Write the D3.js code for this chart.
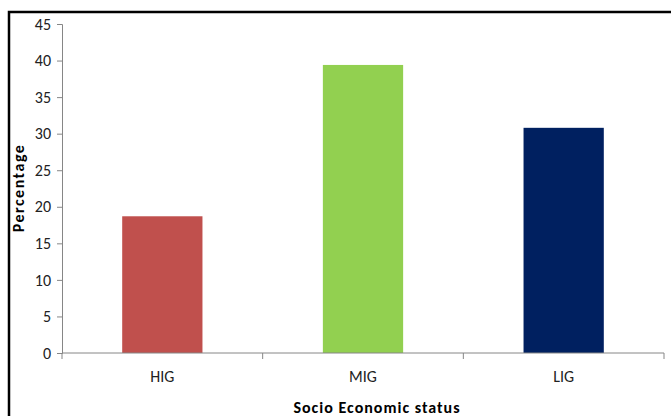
<!DOCTYPE html>
<html>
<head>
<meta charset="utf-8">
<script src="https://cdn.jsdelivr.net/npm/d3@7"></script>
<style>
  body { margin: 0; background: #fff; }
  svg { display: block; font-family: Carlito, Calibri, Lato, sans-serif; }
</style>
</head>
<body>
<svg id="chart" width="671" height="416"></svg>
<script>
// socio economic status vs percentage
const categories = ["HIG", "MIG", "LIG"];
const percentages = [18.7, 39.4, 30.8];
const barColors = ["#C0504D", "#92D050", "#002060"];
const yTicks = [0, 5, 10, 15, 20, 25, 30, 35, 40, 45];

const svg = d3.select("#chart");
const margin = {left: 62, top: 24, right: 664, bottom: 353};

// outer frame (cut off at right & bottom like the original)
svg.append("rect")
   .attr("x", 9).attr("y", 12)
   .attr("width", 700).attr("height", 450)
   .attr("fill", "none")
   .attr("stroke", "#000")
   .attr("stroke-width", 2.5);

const x = d3.scaleBand()
            .domain(categories)
            .range([margin.left, margin.right])
            .paddingInner(0.6)
            .paddingOuter(0.3);

const y = d3.scaleLinear()
            .domain([0, 45])
            .range([margin.bottom, margin.top]);

svg.append("g")
   .selectAll("rect")
   .data(categories)
   .enter()
   .append("rect")
   .attr("x", d => x(d))
   .attr("width", x.bandwidth())
   .attr("y", (d, i) => y(percentages[i]))
   .attr("height", (d, i) => y(0) - y(percentages[i]))
   .attr("fill", (d, i) => barColors[i]);

// y axis
let yAxis = svg.append("g")
   .attr("transform", `translate(${margin.left},0)`)
   .call(d3.axisLeft(y).tickValues(yTicks).tickSize(5).tickPadding(6));
yAxis.select(".domain").attr("stroke", "#868686");
yAxis.selectAll(".tick line").attr("stroke", "#868686");
yAxis.selectAll("text").attr("font-size", 16).attr("fill", "#222")
     .style("font-family", "Carlito, Calibri, Lato, sans-serif");

// x axis: line plus ticks at category boundaries
const step = (margin.right - margin.left) / categories.length;
let xAxisG = svg.append("g");
xAxisG.append("line")
   .attr("x1", margin.left).attr("x2", margin.right)
   .attr("y1", y(0)).attr("y2", y(0))
   .attr("stroke", "#868686");
xAxisG.selectAll(".bt")
   .data(d3.range(categories.length + 1))
   .enter()
   .append("line")
   .attr("x1", i => margin.left + i * step)
   .attr("x2", i => margin.left + i * step)
   .attr("y1", y(0)).attr("y2", y(0) + 6)
   .attr("stroke", "#868686");
xAxisG.selectAll("text")
   .data(categories)
   .enter()
   .append("text")
   .attr("x", d => x(d) + x.bandwidth() / 2)
   .attr("y", 382)
   .attr("text-anchor", "middle")
   .attr("font-size", 16)
   .attr("fill", "#222")
   .text(d => d);

svg.append("text")
   .attr("x", 377).attr("y", 413)
   .attr("text-anchor", "middle")
   .attr("font-size", 16)
   .attr("font-weight", "bold")
   .attr("letter-spacing", 1)
   .text("Socio Economic status");

svg.append("text")
   .attr("transform", "translate(24,188) rotate(-90)")
   .attr("text-anchor", "middle")
   .attr("font-size", 16)
   .attr("font-weight", "bold")
   .attr("letter-spacing", 1.5)
   .text("Percentage");
</script>
</body>
</html>
